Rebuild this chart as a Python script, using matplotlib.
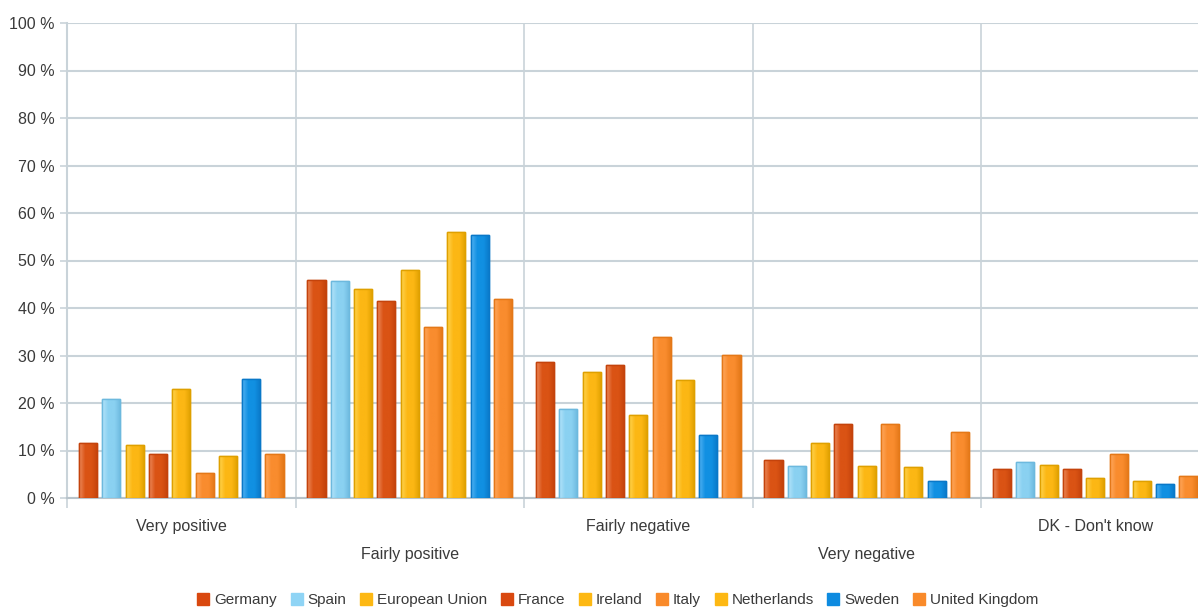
import matplotlib
matplotlib.use('Agg')
import matplotlib.pyplot as plt
import numpy as np
from matplotlib.colors import LinearSegmentedColormap
from matplotlib.lines import Line2D

plt.rcParams['font.family'] = ['Liberation Sans Narrow', 'Liberation Sans', 'DejaVu Sans']

categories = ['Very positive', 'Fairly positive', 'Fairly negative', 'Very negative', 'DK - Don\'t know']
countries = ['Germany', 'Spain', 'European Union', 'France', 'Ireland', 'Italy',
             'Netherlands', 'Sweden', 'United Kingdom']

germany = [11.5, 46.0, 28.7, 7.9, 6.2]
spain = [20.8, 45.6, 18.7, 6.8, 7.6]
eu = [11.1, 43.9, 26.6, 11.5, 6.9]
france = [9.3, 41.4, 28.1, 15.5, 6.2]
ireland = [22.9, 48.1, 17.5, 6.8, 4.3]
italy = [5.3, 35.9, 33.8, 15.5, 9.3]
netherlands = [8.9, 56.1, 24.8, 6.5, 3.6]
sweden = [25.1, 55.4, 13.3, 3.6, 2.9]
uk = [9.3, 42.0, 30.2, 14.0, 4.7]

series = [germany, spain, eu, france, ireland, italy, netherlands, sweden, uk]

# (light, mid, dark edge) per series
red = ('#EC8A5C', '#DA5314', '#C4430C')
blue_l = ('#B4E4F9', '#8AD1F1', '#6DB9DE')
gold = ('#FFD450', '#FCB714', '#DFA000')
orange = ('#FFA85E', '#F98C2E', '#E47818')
blue = ('#52B2F2', '#1190E2', '#0A78C8')
shades = [red, blue_l, gold, red, gold, orange, gold, blue, orange]
legend_colors = ['#D9480F', '#8FD4F5', '#FDB813', '#D9480F', '#FDB813',
                 '#F98A2A', '#FDB813', '#0E8BE0', '#F98A2A']

grid_c = '#C9D3D9'
text_c = '#3A3A3A'

fig = plt.figure(figsize=(11.98, 6.14), dpi=100)
ax = fig.add_axes([67/1198, 116/614, 1142.5/1198, 475/614])

x = np.arange(len(categories))
pitch = 0.102
width = 0.079
grad = np.linspace(0, 1, 64).reshape(1, -1)

for i, vals in enumerate(series):
    light, mid, dark = shades[i]
    cmap = LinearSegmentedColormap.from_list('g%d' % i, [light, mid, mid, dark])
    xs = x + 0.5 + (i - 4) * pitch
    bars = ax.bar(xs, vals, width=width, color=mid, edgecolor=dark, linewidth=1.0, zorder=3)
    for b in bars:
        im = ax.imshow(grad, cmap=cmap, aspect='auto', zorder=3.5,
                       extent=[b.get_x(), b.get_x() + b.get_width(), 0, b.get_height()])
        im.set_clip_path(b)
        outline = plt.Rectangle((b.get_x(), 0), b.get_width(), b.get_height(),
                                fill=False, edgecolor=dark, linewidth=1.0, zorder=4)
        ax.add_patch(outline)

ax.set_xlim(0, 5)
ax.set_ylim(0, 100)

ax.set_yticks(np.arange(0, 101, 10))
ax.set_yticklabels(['%d %%' % v for v in range(0, 101, 10)], fontsize=11.5, color=text_c)
ax.yaxis.grid(True, color=grid_c, linewidth=1.5, zorder=0)
for xv in range(0, 6):
    ax.axvline(xv, color=grid_c, linewidth=1.2, zorder=0)

ax.set_xticks(np.arange(0, 6))
ax.set_xticklabels([])
ax.set_xticks(x + 0.5, minor=True)
ax.set_xticklabels(categories, minor=True, fontsize=11.5, color=text_c)
ax.tick_params(axis='x', which='major', length=7, color=grid_c, width=1.2)
ax.tick_params(axis='x', which='minor', length=0)
ax.tick_params(axis='y', length=5, color=grid_c, width=1.2, pad=4)
for j, t in enumerate(ax.xaxis.get_minor_ticks()):
    t.set_pad(15 if j % 2 == 0 else 35)

for s in ['top', 'right']:
    ax.spines[s].set_visible(False)
ax.spines['left'].set_color(grid_c)
ax.spines['left'].set_linewidth(1.5)
ax.spines['bottom'].set_color('#B8C3CA')
ax.spines['bottom'].set_linewidth(1.5)
ax.set_axisbelow(True)

handles = [Line2D([], [], marker='s', linestyle='', markersize=9,
                  markerfacecolor=c, markeredgecolor=c) for c in legend_colors]
fig.legend(handles, countries, loc='center', bbox_to_anchor=(617/1198, 1 - 600/614),
           ncol=9, frameon=False, fontsize=11, handletextpad=0.2, columnspacing=0.8,
           labelcolor=text_c, handlelength=1.0)

fig.savefig('out.png', dpi=100, facecolor='white')
